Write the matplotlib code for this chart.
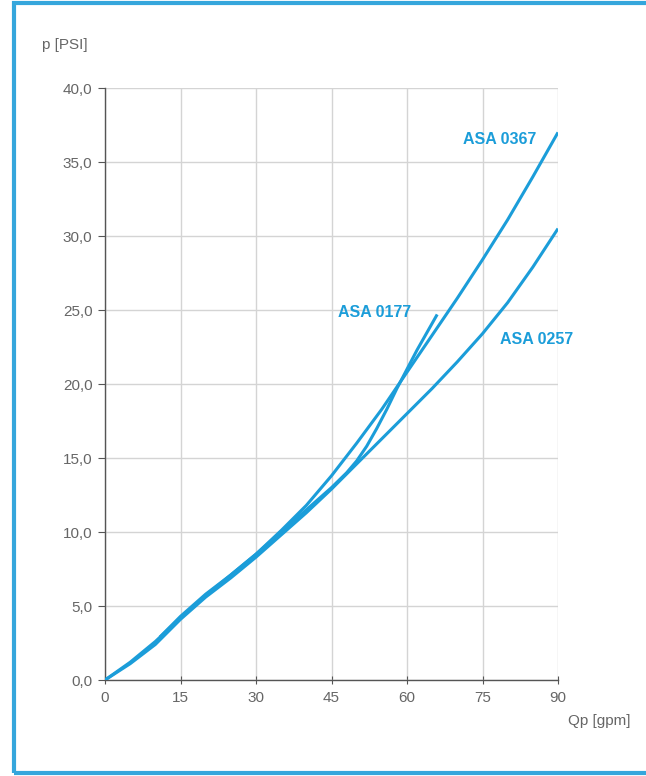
import matplotlib
matplotlib.use("Agg")
from matplotlib import pyplot as plt
from matplotlib.patches import Rectangle

# flow Qp [gpm] vs pressure drop p [PSI]
q_0367 = [0, 5, 10, 15, 20, 25, 30, 35, 40, 45, 50, 55, 60, 65, 70, 75, 80, 85, 90]
p_0367 = [0, 1.2, 2.6, 4.2, 5.7, 7.1, 8.5, 10.1, 11.8, 13.8, 16.0, 18.3, 20.8,
          23.3, 25.8, 28.4, 31.1, 34.0, 37.0]

q_0257 = [0, 5, 10, 15, 20, 25, 30, 35, 40, 45, 50, 55, 60, 65, 70, 75, 80, 85, 90]
p_0257 = [0, 1.1, 2.4, 4.1, 5.6, 6.9, 8.3, 9.8, 11.3, 12.9, 14.6, 16.3, 18.0,
          19.7, 21.5, 23.4, 25.5, 27.9, 30.5]

q_0177 = [10.9, 15, 20, 25, 30, 35, 40, 45, 48, 50, 52, 54, 56, 58, 60, 62, 64, 66]
p_0177 = [2.9, 4.3, 5.8, 7.1, 8.5, 10.0, 11.5, 13.0, 14.0, 14.8, 15.8, 17.0,
          18.3, 19.7, 21.0, 22.3, 23.5, 24.7]

x_ticks = [0, 15, 30, 45, 60, 75, 90]
y_ticks = [0, 5, 10, 15, 20, 25, 30, 35, 40]
y_labels = ["0,0", "5,0", "10,0", "15,0", "20,0", "25,0", "30,0", "35,0", "40,0"]

blue = "#1b9dd9"
gray_txt = "#666666"
plt.rcParams['font.family'] = ['Liberation Sans', 'DejaVu Sans']

fig = plt.figure(figsize=(6.46, 7.76), dpi=100)
ax = fig.add_axes([105 / 646, 1 - 680 / 776, 453 / 646, 592 / 776])

for q, p in [(q_0367, p_0367), (q_0257, p_0257), (q_0177, p_0177)]:
    ax.plot(q, p, color=blue, lw=2.2, solid_capstyle='butt',
            solid_joinstyle='round', zorder=3)

ax.set_xlim(0, 90)
ax.set_ylim(0, 40)
ax.set_xticks(x_ticks)
ax.set_yticks(y_ticks)
ax.set_yticklabels(y_labels)
ax.grid(True, color="#d4d4d4", lw=1)
ax.set_axisbelow(True)
for s in ["top", "right"]:
    ax.spines[s].set_visible(False)
for s in ["left", "bottom"]:
    ax.spines[s].set_color("#555555")
    ax.spines[s].set_linewidth(1)
ax.tick_params(axis="y", length=5, color="#555555", labelsize=11,
               labelcolor=gray_txt, pad=4)
ax.tick_params(axis="x", direction="inout", length=6, color="#555555",
               labelsize=11, labelcolor=gray_txt, pad=5)

ax.text(85.8, 36.5, "ASA 0367", color=blue, fontsize=11.5, fontweight="bold",
        ha="right", va="center")
ax.text(60.8, 24.8, "ASA 0177", color=blue, fontsize=11.5, fontweight="bold",
        ha="right", va="center")
ax.text(78.5, 23.0, "ASA 0257", color=blue, fontsize=11.5, fontweight="bold",
        ha="left", va="center")

fig.text(42 / 646, 1 - 45 / 776, "p [PSI]", color=gray_txt, fontsize=11,
         ha="left", va="center")
fig.text(630 / 646, 1 - 721 / 776, "Qp [gpm]", color=gray_txt, fontsize=11,
         ha="right", va="center")

fig.patches.append(Rectangle((14 / 646, 3 / 776), 640 / 646, 770 / 776,
                             transform=fig.transFigure, fill=False,
                             edgecolor="#35a6dc", lw=3))

fig.savefig("out.png", dpi=100)
